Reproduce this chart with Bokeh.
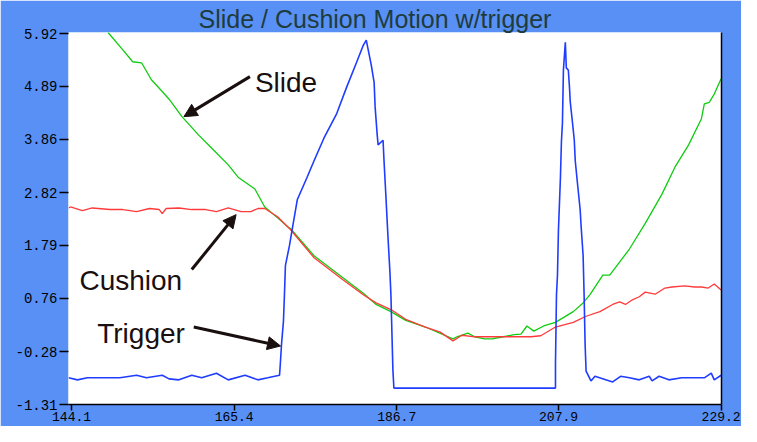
from bokeh.plotting import figure
from bokeh.models import Range1d, FixedTicker, LinearAxis, Label, Arrow, NormalHead
from bokeh.embed import file_html
from bokeh.resources import INLINE

title_text = "Slide / Cushion Motion w/trigger"

x_ticks = [144.1, 165.4, 186.7, 207.9, 229.2]
x_tick_labels = ["144.1", "165.4", "186.7", "207.9", "229.2"]
y_ticks = [5.92, 4.89, 3.86, 2.82, 1.79, 0.76, -0.28, -1.31]
y_tick_labels = ["5.92", "4.89", "3.86", "2.82", "1.79", "0.76", "-0.28", "-1.31"]

slide_x = [148.88, 150.82, 152.11, 153.27, 154.56, 155.98, 156.88, 158.56, 160.76, 162.44,
           164.63, 165.92, 168.12, 169.41, 171.09, 172.38, 172.77, 175.87, 179.74, 182.32,
           184.00, 185.94, 187.88, 190.46, 194.07, 194.60, 196.01, 196.92, 198.20, 199.24,
           202.08, 202.98, 203.76, 204.66, 205.95, 207.50, 209.83, 211.12, 212.02, 213.70,
           214.61, 217.19, 219.26, 221.45, 223.13, 224.94, 226.62, 227.00, 227.65, 228.30,
           229.20]
slide_y = [5.94, 5.60, 5.37, 5.35, 5.02, 4.79, 4.64, 4.30, 3.94, 3.69,
           3.36, 3.12, 2.89, 2.54, 2.33, 2.16, 2.12, 1.59, 1.15, 0.86,
           0.64, 0.50, 0.33, 0.20, -0.03, 0.01, 0.08, 0.01, -0.03, -0.03,
           0.05, 0.06, 0.22, 0.12, 0.22, 0.29, 0.50, 0.67, 0.83, 1.21,
           1.21, 1.72, 2.22, 2.79, 3.31, 3.75, 4.26, 4.55, 4.58, 4.74,
           5.04]

cushion_x = [143.71, 143.97, 145.52, 146.81, 149.14, 150.82, 152.62, 154.30, 155.59, 155.98,
             156.50, 158.17, 159.85, 161.66, 163.08, 164.63, 166.31, 167.60, 168.51, 169.41,
             171.09, 172.77, 175.87, 179.74, 182.32, 184.00, 185.94, 187.88, 190.46, 192.40,
             194.07, 195.24, 196.92, 199.50, 202.08, 204.28, 205.57, 207.50, 209.83, 211.51,
             213.32, 214.99, 215.90, 216.67, 217.57, 218.48, 219.26, 220.55, 221.84, 222.75,
             224.43, 225.71, 226.62, 227.52, 228.30, 229.20]
cushion_y = [2.52, 2.54, 2.47, 2.52, 2.49, 2.49, 2.45, 2.51, 2.49, 2.41,
             2.51, 2.52, 2.49, 2.49, 2.45, 2.52, 2.45, 2.45, 2.51, 2.51,
             2.35, 2.10, 1.55, 1.11, 0.83, 0.67, 0.54, 0.35, 0.20, 0.10,
             -0.07, 0.04, 0.01, 0.01, 0.01, 0.01, 0.03, 0.20, 0.29, 0.41,
             0.50, 0.64, 0.69, 0.64, 0.73, 0.79, 0.88, 0.84, 0.96, 0.98,
             1.00, 0.98, 0.98, 0.96, 1.04, 0.92]

trigger_x = [143.71, 144.87, 146.17, 148.23, 150.43, 152.62, 153.91, 155.98, 156.88, 158.17,
             159.85, 161.15, 163.08, 164.63, 166.83, 168.51, 169.80, 171.35,
             171.48, 171.61, 171.86, 171.99, 172.12, 172.64, 173.67, 174.96, 175.87, 177.16,
             178.84, 180.13, 181.42, 182.32, 182.71,
             183.36, 183.74, 183.87, 184.13, 184.26, 184.91, 185.03, 185.29, 185.55, 185.81,
             185.94, 186.20, 186.33,
             207.50, 207.50, 207.63, 207.76, 207.89, 208.15, 208.28, 208.41, 208.54, 208.79,
             208.92, 209.18, 209.31, 209.44, 209.70, 209.96, 210.09, 210.34, 210.73, 210.86,
             211.12, 211.25, 211.38, 211.51, 212.15, 212.67,
             214.99, 216.03, 217.19, 218.48, 219.78, 220.16, 221.07, 222.36, 224.03, 225.32,
             227.00, 227.91, 228.30, 229.20]
trigger_y = [-0.79, -0.83, -0.79, -0.79, -0.79, -0.74, -0.79, -0.74, -0.81, -0.83,
             -0.74, -0.79, -0.70, -0.83, -0.74, -0.83, -0.79, -0.74,
             -0.45, -0.13, 0.31, 0.83, 1.40, 1.78, 2.68, 3.12, 3.44, 3.88,
             4.36, 4.87, 5.35, 5.69, 5.79,
             5.31, 4.97, 4.49, 3.97, 3.75, 3.84, 3.46, 2.73, 1.97, 1.27,
             0.83, -0.64, -0.99,
             -0.99, -0.51, 0.83, 1.21, 2.10, 3.12, 3.82, 4.17, 5.21, 5.75,
             5.25, 5.21, 4.93, 4.58, 4.22, 3.85, 3.44, 3.06, 2.49, 2.16,
             1.59, 0.83, -0.13, -0.66, -0.85, -0.76,
             -0.87, -0.76, -0.79, -0.83, -0.76, -0.85, -0.76, -0.83, -0.79, -0.79,
             -0.79, -0.70, -0.83, -0.74]

# callouts: (text, text x, text baseline y, arrow start x, y, arrow tip x, y)
callouts = [
    ("Slide", 168.12, 4.97, 167.47, 5.08, 158.82, 4.30),
    ("Cushion", 145.13, 1.11, 159.85, 1.32, 165.66, 2.39),
    ("Trigger", 147.46, 0.08, 160.11, 0.20, 171.48, -0.17),
]

BG = "#5890f6"
FONT = "Liberation Sans"
MONO = "Liberation Mono"

p = figure(width=741, height=426, output_backend="svg", toolbar_location=None,
           x_range=Range1d(143.7, 229.25), y_range=Range1d(-1.31, 5.94),
           min_border_left=68, min_border_right=20, min_border_top=32, min_border_bottom=22,
           border_fill_color=BG, background_fill_color="white", outline_line_color=None)
p.grid.visible = False

p.title.text = title_text
p.title.text_font = FONT
p.title.text_font_size = "25px"
p.title.text_font_style = "normal"
p.title.text_color = "#1f3c3c"
p.title.align = "left"
p.title.offset = 130
p.title.standoff = 0
p.title.vertical_align = "bottom"

xa = p.xaxis[0]
xa.ticker = FixedTicker(ticks=x_ticks)
xa.major_label_overrides = dict(zip(x_ticks, x_tick_labels))
xa.axis_line_color = "black"
xa.axis_line_width = 1.5
xa.major_tick_line_color = "black"
xa.major_tick_line_width = 1.5
xa.major_tick_in = 0
xa.major_tick_out = 6
xa.minor_tick_line_color = None
xa.major_label_standoff = 1
xa.major_label_text_font = MONO
xa.major_label_text_font_size = "13px"
xa.major_label_text_color = "black"

ya = p.yaxis[0]
ya.ticker = FixedTicker(ticks=y_ticks)
ya.major_label_overrides = dict(zip(y_ticks, y_tick_labels))
ya.axis_line_color = None
ya.major_tick_line_color = "black"
ya.major_tick_line_width = 1.5
ya.major_tick_in = 0
ya.major_tick_out = 9
ya.minor_tick_line_color = None
ya.major_label_standoff = 2
ya.major_label_text_font = MONO
ya.major_label_text_font_size = "14px"
ya.major_label_text_color = "black"

ra = LinearAxis(ticker=FixedTicker(ticks=[]), axis_line_color="black", axis_line_width=1.5,
                major_tick_line_color=None, minor_tick_line_color=None, major_label_standoff=0)
p.add_layout(ra, "right")

p.line(slide_x, slide_y, line_color="#10cc10", line_width=1.3)
p.line(cushion_x, cushion_y, line_color="#ff3a3a", line_width=1.3)
p.line(trigger_x, trigger_y, line_color="#1f3cff", line_width=1.6)

for txt, tx, ty, ax0, ay0, ax1, ay1 in callouts:
    p.add_layout(Label(x=tx, y=ty, text=txt, text_font=FONT, text_font_size="28px",
                       text_color="#1a0f0f", text_baseline="alphabetic", text_align="left"))
    p.add_layout(Arrow(x_start=ax0, y_start=ay0, x_end=ax1, y_end=ay1,
                       line_color="#1a0f0f", line_width=3,
                       end=NormalHead(size=13, fill_color="#1a0f0f", line_color="#1a0f0f")))

open("out.html", "w").write(file_html(p, INLINE))
